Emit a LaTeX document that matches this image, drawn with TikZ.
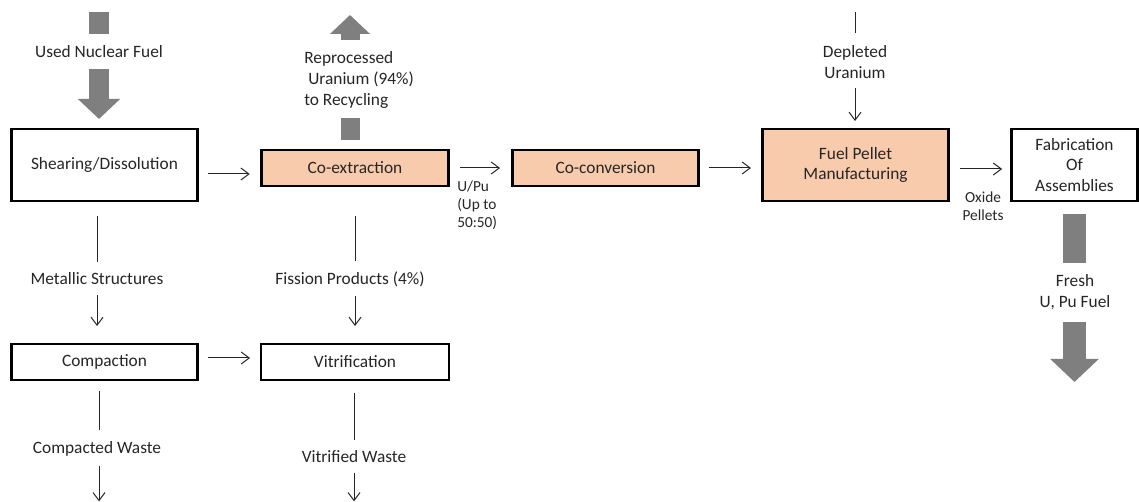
\documentclass[tikz,border=0pt]{standalone}
\usepackage{fontspec}
\setmainfont{Carlito}
\usetikzlibrary{arrows.meta}
\definecolor{peach}{HTML}{F8CBAD}
\definecolor{fatgray}{RGB}{127,127,127}
\definecolor{ink}{HTML}{262626}

\begin{document}
\begin{tikzpicture}[x=0.75pt,y=-0.75pt,
    box/.style={draw=black,line width=2.2pt,fill=white,minimum width=140pt,minimum height=27pt,
        inner sep=0pt,align=center,font=\fontsize{13}{15.4}\selectfont,text=ink},
    tallbox/.style={box,minimum height=54pt},
    stage/.style={box,fill=peach},
    lbl/.style={inner sep=0pt,align=center,font=\fontsize{13}{15.4}\selectfont,text=ink},
    smalllbl/.style={lbl,font=\fontsize{11.5}{13.6}\selectfont},
    flowline/.style={draw=ink,line width=0.75pt},
    flow/.style={flowline,-{Straight Barb[length=6pt,width=9pt]}},
    fatbar/.style={draw=fatgray,line width=#1},
    fatarrow/.style={fatbar=#1,-{Triangle[length=0pt 1,width=0pt 2.05]}}]
    \useasboundingbox[fill=white] (0,0) rectangle (1139,502);

    \node[tallbox] (shear) at (104.5,165) {Shearing/Dissolution};
    \node[stage] (coext) at (355,168) {Co-extraction};
    \node[stage] (coconv) at (605.5,168) {Co-conversion};
    \node[tallbox,fill=peach] (pellet) at (855.5,165) {Fuel Pellet\\Manufacturing};
    \node[tallbox,minimum width=94pt] (fab) at (1074.5,165) {Fabrication\\Of\\Assemblies};
    \node[box] (compact) at (104.5,362) {Compaction};
    \node[box,minimum width=141pt] (vitri) at (355,362) {Vitrification};

    \node[lbl] (usedfuel) at (99,52) {Used Nuclear Fuel};
    \node[lbl,align=left,anchor=west] (recycle) at (304,80) {Reprocessed\\\hspace*{3pt}Uranium (94\%)\\to Recycling};
    \node[smalllbl,align=left,anchor=west] (ratio) at (457,205) {U/Pu\\(Up to\\50:50)};
    \node[lbl] (depleted) at (855,62) {Depleted\\Uranium};
    \node[smalllbl] (oxide) at (983,206) {Oxide\\Pellets};
    \node[lbl] (metal) at (97,279) {Metallic Structures};
    \node[lbl] (fission) at (350,279) {Fission Products (4\%)};
    \node[lbl] (compwaste) at (97,449) {Compacted Waste};
    \node[lbl] (vitwaste) at (354,457) {Vitrified Waste};
    \node[lbl] (fresh) at (1075,292) {Fresh\\U, Pu Fuel};

    \coordinate (fuelin) at (99,12);
    \coordinate (depin) at (855,12);
    \coordinate (recout) at (350,15);
    \coordinate (freshout) at (1074.5,382);
    \coordinate (compout) at (99,502);
    \coordinate (vitout) at (354,502);

    \draw[fatbar=15pt,shorten >=9pt] (fuelin) -- (fuelin |- usedfuel.north);
    \draw[fatarrow=15pt,shorten <=8pt,shorten >=6.4pt] (usedfuel) -- (usedfuel |- shear.north);
    \draw[fatbar=14.25pt,shorten <=6.4pt,shorten >=7pt] (coext.north -| recout) -- (recycle.south -| recout);
    \draw[fatarrow=14.25pt,shorten <=8.5pt] (recycle.north -| recout) -- (recout);
    \draw[fatbar=17.25pt,shorten <=8.6pt,shorten >=8.3pt] (fab.south -| freshout) -- (fresh.north -| freshout);
    \draw[fatarrow=17.25pt,shorten <=9pt] (fresh.south -| freshout) -- (freshout);

    \draw[flow,shorten <=6.5pt,shorten >=7.9pt] ([yshift=-6.75pt]shear.east) -- ([yshift=-6.75pt]shear.east -| coext.west);
    \draw[flow,shorten <=7.9pt,shorten >=8pt] (coext.east) -- (coconv.west);
    \draw[flow,shorten <=6.5pt,shorten >=7.3pt] (coconv.east) -- (coconv.east -| pellet.west);
    \draw[flow,shorten <=7.3pt,shorten >=6.2pt] ([yshift=-3pt]pellet.east) -- ([yshift=-3pt]pellet.east -| fab.west);
    \draw[flow,shorten <=6.5pt,shorten >=7.1pt] ([yshift=3pt]compact.east) -- ([yshift=3pt]compact.east -| vitri.west);

    \draw[flowline,shorten >=9pt] (depin) -- (depin |- depleted.north);
    \draw[flow,shorten <=6.75pt,shorten >=4.9pt] (depin |- depleted.south) -- (depin |- pellet.north);

    \draw[flowline,shorten <=10pt,shorten >=8pt] (metal |- shear.south) -- (metal);
    \draw[flow,shorten <=7pt,shorten >=12.4pt] (metal) -- (metal |- compact.north);
    \draw[flowline,shorten <=21.4pt,shorten >=8pt] (coext.south) -- (coext.south |- fission.north);
    \draw[flow,shorten <=7pt,shorten >=12.4pt] (coext |- fission.south) -- (coext |- vitri.north);

    \draw[flowline,shorten <=7pt,shorten >=8.6pt] (compout |- compact.south) -- (compout |- compwaste.north);
    \draw[flow,shorten <=7pt,shorten >=0.5pt] (compout |- compwaste.south) -- (compout);
    \draw[flowline,shorten <=8.6pt,shorten >=8pt] (vitout |- vitri.south) -- (vitout |- vitwaste.north);
    \draw[flow,shorten <=7pt,shorten >=0.5pt] (vitout |- vitwaste.south) -- (vitout);
\end{tikzpicture}
\end{document}
